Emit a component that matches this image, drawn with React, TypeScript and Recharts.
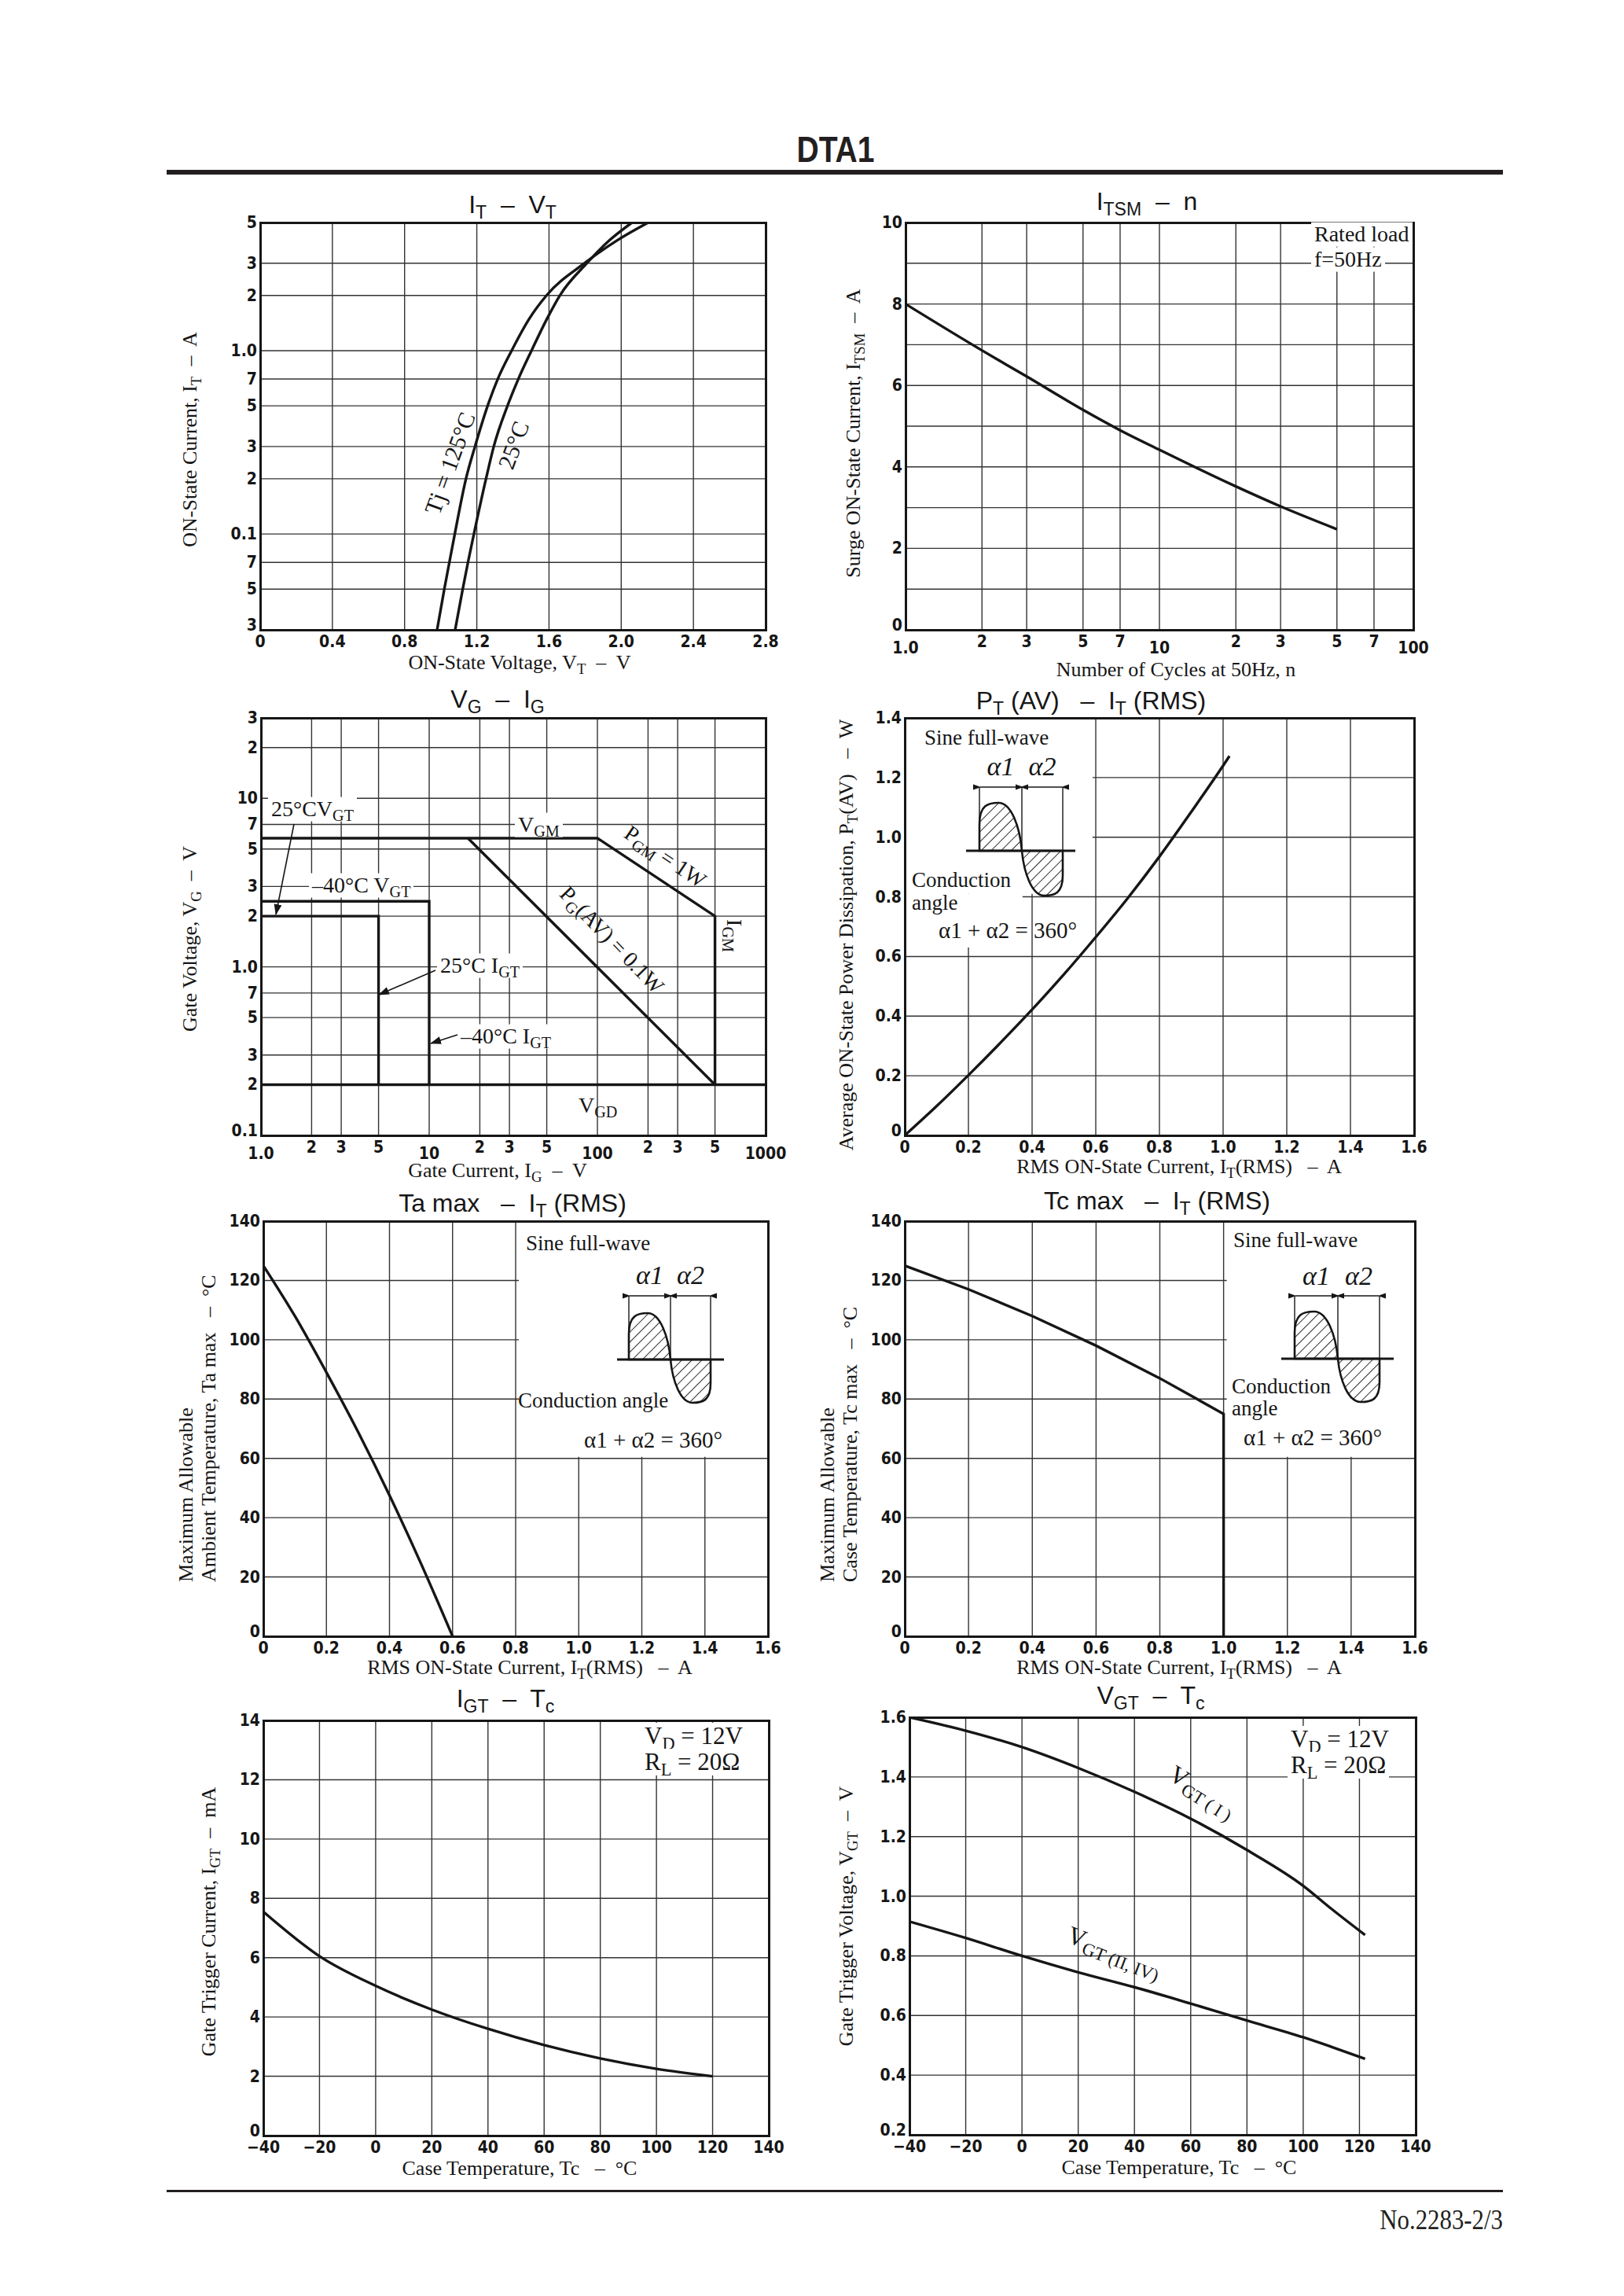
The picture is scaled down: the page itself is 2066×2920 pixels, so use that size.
import React from "react";
import { CartesianGrid, Line, LineChart, ReferenceArea, XAxis, YAxis } from "recharts";

type Pt = { x: number; y: number };
type Axis = { domain: [number, number]; ticks: number[]; labels: string[]; log?: boolean; low?: number[] };
type Blank = { x1: number; x2: number; y1: number; y2: number };
type Series = { data: Pt[]; curve: "monotone" | "linear" };

const SERIF = '"Liberation Serif", "Times New Roman", serif';
const SANS = '"Liberation Sans", Arial, sans-serif';
const TICK_FONT = '"DejaVu Sans Condensed", "DejaVu Sans", sans-serif';
const INK = "#161616";

const zip = (xs: number[], ys: number[]): Pt[] => xs.map((x, i) => ({ x, y: ys[i] }));

// IT - VT
const vtTicks = [0, 0.4, 0.8, 1.2, 1.6, 2.0, 2.4, 2.8];
const vtLabels = ["0", "0.4", "0.8", "1.2", "1.6", "2.0", "2.4", "2.8"];
const itTicks = [0.03, 0.05, 0.07, 0.1, 0.2, 0.3, 0.5, 0.7, 1, 2, 3, 5];
const itLabels = ["3", "5", "7", "0.1", "2", "3", "5", "7", "1.0", "2", "3", "5"];
const it125V = [0.98, 1.02, 1.048, 1.078, 1.14, 1.19, 1.26, 1.316, 1.393, 1.492, 1.586, 1.797, 1.978, 2.15];
const it125A = [0.03, 0.05, 0.07, 0.1, 0.2, 0.3, 0.5, 0.7, 1.0, 1.5, 2, 3, 4, 5];
const it25V = [1.08, 1.122, 1.151, 1.184, 1.251, 1.294, 1.37, 1.43, 1.503, 1.59, 1.66, 1.81, 1.935, 2.06];
const it25A = [0.03, 0.05, 0.07, 0.1, 0.2, 0.3, 0.5, 0.7, 1.0, 1.5, 2, 3, 4, 5];

// ITSM - n
const cycTicks = [1, 2, 3, 5, 7, 10, 20, 30, 50, 70, 100];
const cycLabels = ["1.0", "2", "3", "5", "7", "10", "2", "3", "5", "7", "100"];
const surgeTicks = [0, 1, 2, 3, 4, 5, 6, 7, 8, 9, 10];
const surgeLabels = ["0", "", "2", "", "4", "", "6", "", "8", "", "10"];
const itsmN = [1, 2, 3, 5, 7, 10, 20, 30, 50];
const itsmA = [8.0, 6.86, 6.22, 5.4, 4.9, 4.42, 3.52, 3.03, 2.47];

// VG - IG
const igTicks = [1, 2, 3, 5, 10, 20, 30, 50, 100, 200, 300, 500, 1000];
const igLabels = ["1.0", "2", "3", "5", "10", "2", "3", "5", "100", "2", "3", "5", "1000"];
const vgTicks = [0.1, 0.2, 0.3, 0.5, 0.7, 1, 2, 3, 5, 7, 10, 20, 30];
const vgLabels = ["0.1", "2", "3", "5", "7", "1.0", "2", "3", "5", "7", "10", "2", "3"];
const vgt25I = [1, 5, 5];
const vgt25V = [2, 2, 0.2];
const vgt40I = [1, 10, 10];
const vgt40V = [2.45, 2.45, 0.2];
const vgmI = [1, 100, 500, 500];
const vgmV = [5.8, 5.8, 2, 0.2];
const pgavI = [17, 500];
const pgavV = [5.8, 0.2];
const vgdI = [1, 1000];
const vgdV = [0.2, 0.2];

// PT(AV) - IT(RMS)
const rmsTicks = [0, 0.2, 0.4, 0.6, 0.8, 1.0, 1.2, 1.4, 1.6];
const rmsLabels = ["0", "0.2", "0.4", "0.6", "0.8", "1.0", "1.2", "1.4", "1.6"];
const ptTicks = [0, 0.2, 0.4, 0.6, 0.8, 1.0, 1.2, 1.4];
const ptLabels = ["0", "0.2", "0.4", "0.6", "0.8", "1.0", "1.2", "1.4"];
const ptI = [0, 0.1, 0.2, 0.3, 0.4, 0.5, 0.6, 0.7, 0.8, 0.9, 1.0, 1.02];
const ptW = [0, 0.098, 0.202, 0.31, 0.422, 0.54, 0.665, 0.795, 0.935, 1.085, 1.24, 1.272];

// Ta max / Tc max - IT(RMS)
const tempTicks = [0, 20, 40, 60, 80, 100, 120, 140];
const tempLabels = ["0", "20", "40", "60", "80", "100", "120", "140"];
const taI = [0, 0.1, 0.2, 0.3, 0.4, 0.5, 0.6];
const taC = [125, 108, 89, 69, 47.5, 24.5, 0];
const tcI = [0, 0.2, 0.4, 0.6, 0.8, 1.0, 1.0];
const tcC = [125, 117, 108, 98, 87, 75, 0];

// IGT / VGT - Tc
const caseTicks = [-40, -20, 0, 20, 40, 60, 80, 100, 120, 140];
const caseLabels = ["\u221240", "\u221220", "0", "20", "40", "60", "80", "100", "120", "140"];
const igtTicks = [0, 2, 4, 6, 8, 10, 12, 14];
const igtLabels = ["0", "2", "4", "6", "8", "10", "12", "14"];
const igtT = [-40, -20, 0, 20, 40, 60, 80, 100, 120];
const igtMA = [7.55, 6.05, 5.05, 4.25, 3.6, 3.05, 2.6, 2.25, 2.0];
const vgtTicks = [0.2, 0.4, 0.6, 0.8, 1.0, 1.2, 1.4, 1.6];
const vgtLabels = ["0.2", "0.4", "0.6", "0.8", "1.0", "1.2", "1.4", "1.6"];
const vgtT = [-40, -20, 0, 20, 40, 60, 80, 100, 110, 122];
const vgt1 = [1.6, 1.555, 1.5, 1.43, 1.35, 1.26, 1.155, 1.035, 0.958, 0.87];
const vgt24 = [0.915, 0.86, 0.8, 0.745, 0.695, 0.64, 0.583, 0.527, 0.495, 0.455];

const ML = 92;
const MR = 36;
const MT = 14;
const MB = 60;

const same = (a: number, b: number) => Math.abs(a - b) < 1e-9;

function Panel(props: {
  left: number;
  top: number;
  width: number;
  height: number;
  x: Axis;
  y: Axis;
  series: Series[];
  blanks?: Blank[];
}) {
  const { left, top, width, height, x, y, series, blanks = [] } = props;
  const w = width + ML + MR;
  const h = height + MT + MB;
  const bottom = MT + height;
  const lab = (a: Axis, v: number) => {
    const i = a.ticks.findIndex((t) => same(t, v));
    return i < 0 ? "" : a.labels[i];
  };
  const xTick = (p: any) => {
    const v = p.payload.value;
    const low = (x.low || []).some((t) => same(t, v));
    return (
      <text x={p.x} y={bottom + (low ? 30 : 22)} textAnchor="middle" fontFamily={TICK_FONT} fontWeight="bold" fontSize={21} fill={INK}>
        {lab(x, v)}
      </text>
    );
  };
  const yTick = (p: any) => {
    const v = p.payload.value;
    const first = same(v, y.domain[0]);
    return (
      <text x={ML - 4} y={p.y + (first ? 1 : 7)} textAnchor="end" fontFamily={TICK_FONT} fontWeight="bold" fontSize={21} fill={INK}>
        {lab(y, v)}
      </text>
    );
  };

  return (
    <div style={{ position: "absolute", left: left - ML, top: top - MT, width: w, height: h }}>
      <LineChart width={w} height={h} margin={{ top: MT, right: MR, bottom: 0, left: 0 }}>
        <CartesianGrid stroke="#333" strokeWidth={1.4} />
        <XAxis
          type="number"
          dataKey="x"
          scale={x.log ? "log" : "linear"}
          domain={x.domain}
          ticks={x.ticks}
          interval={0}
          allowDataOverflow
          tickLine={false}
          axisLine={false}
          height={MB}
          tick={xTick}
        />
        <YAxis
          type="number"
          scale={y.log ? "log" : "linear"}
          domain={y.domain}
          ticks={y.ticks}
          interval={0}
          allowDataOverflow
          tickLine={false}
          axisLine={false}
          width={ML}
          tick={yTick}
        />
        {blanks.map((b, i) => (
          <ReferenceArea key={i} x1={b.x1} x2={b.x2} y1={b.y1} y2={b.y2} fill="#fff" fillOpacity={1} stroke="none" />
        ))}
        {series.map((s, i) => (
          <Line
            key={i}
            data={s.data}
            dataKey="y"
            type={s.curve}
            stroke={INK}
            strokeWidth={3.4}
            dot={false}
            activeDot={false}
            isAnimationActive={false}
          />
        ))}
      </LineChart>
      <div
        style={{
          position: "absolute",
          left: ML - 1.5,
          top: MT - 1.5,
          width: width + 3,
          height: height + 3,
          border: `3px solid ${INK}`,
          boxSizing: "border-box",
        }}
      />
    </div>
  );
}

function T(props: any) {
  const { x, y, rot = 0, size = 26, font = SERIF, weight = 400, anchor = "middle", bg = false, italic = false, children } = props;
  const tx = anchor === "middle" ? "-50%" : anchor === "end" ? "-100%" : "0%";
  return (
    <div
      style={{
        position: "absolute",
        left: x,
        top: y,
        transform: `translate(${tx}, -50%) rotate(${rot}deg)`,
        fontFamily: font,
        fontSize: size,
        fontWeight: weight,
        fontStyle: italic ? "italic" : "normal",
        whiteSpace: "pre",
        lineHeight: 1.1,
        color: INK,
        background: bg ? "#fff" : "transparent",
        padding: bg ? "0 4px" : 0,
      }}
    >
      {children}
    </div>
  );
}

const Sub = ({ children }: any) => <span style={{ fontSize: "0.72em", position: "relative", top: "0.32em" }}>{children}</span>;

function Wave(p: { L: number; M: number; R: number; ay: number; top: number; bot: number; arrowY: number; x0: number; x1: number; ty: number }) {
  const { L, M, R, ay, top, bot, arrowY, x0, x1, ty } = p;
  const w1 = M - L;
  const w2 = R - M;
  const h1 = ay - top;
  const h2 = bot - ay;
  const pos = `M${L},${ay} L${L},${ay - 0.55 * h1} C${L},${ay - 0.95 * h1} ${L + 0.2 * w1},${top} ${L + 0.45 * w1},${top} C${L + 0.75 * w1},${top} ${L + 0.95 * w1},${ay - 0.5 * h1} ${M},${ay} Z`;
  const neg = `M${R},${ay} L${R},${ay + 0.55 * h2} C${R},${ay + 0.95 * h2} ${R - 0.2 * w2},${bot} ${R - 0.45 * w2},${bot} C${R - 0.75 * w2},${bot} ${R - 0.95 * w2},${ay + 0.5 * h2} ${M},${ay} Z`;
  return (
    <g>
      <path d={pos} fill="url(#hatch)" stroke={INK} strokeWidth={2.6} />
      <path d={neg} fill="url(#hatch)" stroke={INK} strokeWidth={2.6} />
      <line x1={x0} y1={ay} x2={x1} y2={ay} stroke={INK} strokeWidth={3.2} />
      <line x1={L} y1={arrowY} x2={L} y2={ay} stroke={INK} strokeWidth={1.4} />
      <line x1={M} y1={arrowY} x2={M} y2={ay} stroke={INK} strokeWidth={1.4} />
      <line x1={R} y1={arrowY} x2={R} y2={ay} stroke={INK} strokeWidth={1.4} />
      <line x1={L + 1} y1={arrowY} x2={M - 1} y2={arrowY} stroke={INK} strokeWidth={1.6} markerStart="url(#dim)" markerEnd="url(#dim)" />
      <line x1={M + 1} y1={arrowY} x2={R - 1} y2={arrowY} stroke={INK} strokeWidth={1.6} markerStart="url(#dim)" markerEnd="url(#dim)" />
      <text x={(L + M) / 2} y={ty + 12} textAnchor="middle" fontFamily={SERIF} fontStyle="italic" fontSize={34} fill={INK}>
        α1
      </text>
      <text x={(M + R) / 2} y={ty + 12} textAnchor="middle" fontFamily={SERIF} fontStyle="italic" fontSize={34} fill={INK}>
        α2
      </text>
    </g>
  );
}

export default function App() {
  const rmsAxis: Axis = { domain: [0, 1.6], ticks: rmsTicks, labels: rmsLabels };
  const tempAxis: Axis = { domain: [0, 140], ticks: tempTicks, labels: tempLabels };
  const caseAxis: Axis = { domain: [-40, 140], ticks: caseTicks, labels: caseLabels };
  const rmsTitle = (
    <>
      RMS ON-State Current, I<Sub>T</Sub>(RMS) {"  –  "}A
    </>
  );
  const caseTitle = <>Case Temperature, Tc {"  –  "}°C</>;

  return (
    <div
      style={{
        position: "absolute",
        left: 0,
        top: 0,
        width: 2066,
        height: 2920,
        background: "#fff",
        overflow: "hidden",
        fontFamily: SERIF,
        color: INK,
      }}
    >
      {/* header */}
      <div
        style={{
          position: "absolute",
          left: 1063,
          top: 190,
          transform: "translate(-50%, -50%) scaleX(0.85)",
          fontFamily: SANS,
          fontWeight: 700,
          fontSize: 46,
          lineHeight: 1,
          color: "#231f20",
        }}
      >
        DTA1
      </div>
      <div style={{ position: "absolute", left: 212, top: 216, width: 1700, height: 6, background: "#231f20" }} />
      <div style={{ position: "absolute", left: 212, top: 2785, width: 1700, height: 3, background: "#231f20" }} />
      <div
        style={{
          position: "absolute",
          right: 2066 - 1912,
          top: 2806,
          fontFamily: SERIF,
          fontSize: 35,
          lineHeight: 1,
          transform: "scaleX(0.88)",
          transformOrigin: "right center",
          color: "#231f20",
        }}
      >
        No.2283-2/3
      </div>

      {/* IT - VT */}
      <Panel
        left={331}
        top={283}
        width={643}
        height={518}
        x={{ domain: [0, 2.8], ticks: vtTicks, labels: vtLabels }}
        y={{ domain: [0.03, 5], ticks: itTicks, labels: itLabels, log: true }}
        series={[
          { data: zip(it125V, it125A), curve: "monotone" },
          { data: zip(it25V, it25A), curve: "monotone" },
        ]}
      />
      <T x={652} y={261} font={SANS} size={32}>
        I<Sub>T</Sub>
        {"  –  "}V<Sub>T</Sub>
      </T>
      <T x={661} y={843}>
        ON-State Voltage, V<Sub>T</Sub>
        {"  –  "}V
      </T>
      <T x={242} y={559} rot={-90}>
        ON-State Current, I<Sub>T</Sub>
        {"  –  "}A
      </T>
      <T x={572} y={589} rot={-70} size={30}>
        Tj = 125°C
      </T>
      <T x={653} y={566} rot={-70} size={30}>
        25°C
      </T>

      {/* ITSM - n */}
      <Panel
        left={1152}
        top={283}
        width={646}
        height={518}
        x={{ domain: [1, 100], ticks: cycTicks, labels: cycLabels, log: true, low: [1, 10, 100] }}
        y={{ domain: [0, 10], ticks: surgeTicks, labels: surgeLabels }}
        series={[{ data: zip(itsmN, itsmA), curve: "monotone" }]}
      />
      <T x={1459} y={257} font={SANS} size={32}>
        I<Sub>TSM</Sub>
        {"  –  "}n
      </T>
      <T x={1496} y={852}>
        Number of Cycles at 50Hz, n
      </T>
      <T x={1086} y={551} rot={-90}>
        Surge ON-State Current, I<Sub>TSM</Sub>
        {"  –  "}A
      </T>
      <T x={1668} y={298} anchor="start" size={28} bg>
        Rated load
      </T>
      <T x={1668} y={330} anchor="start" size={28} bg>
        f=50Hz
      </T>

      {/* VG - IG */}
      <Panel
        left={332}
        top={913}
        width={642}
        height={531}
        x={{ domain: [1, 1000], ticks: igTicks, labels: igLabels, log: true, low: [1, 10, 100, 1000] }}
        y={{ domain: [0.1, 30], ticks: vgTicks, labels: vgLabels, log: true }}
        series={[
          { data: zip(vgt25I, vgt25V), curve: "linear" },
          { data: zip(vgt40I, vgt40V), curve: "linear" },
          { data: zip(vgmI, vgmV), curve: "linear" },
          { data: zip(pgavI, pgavV), curve: "linear" },
          { data: zip(vgdI, vgdV), curve: "linear" },
        ]}
      />
      <T x={633} y={890} font={SANS} size={32}>
        V<Sub>G</Sub>
        {"  –  "}I<Sub>G</Sub>
      </T>
      <T x={633} y={1489}>
        Gate Current, I<Sub>G</Sub>
        {"  –  "}V
      </T>
      <T x={242} y={1194} rot={-90}>
        Gate Voltage, V<Sub>G</Sub>
        {"  –  "}V
      </T>
      <T x={341} y={1029} anchor="start" size={28} bg>
        25°CV<Sub>GT</Sub>
      </T>
      <T x={655} y={1049} anchor="start" size={28} bg>
        V<Sub>GM</Sub>
      </T>
      <T x={393} y={1126} anchor="start" size={28} bg>
        –40°C V<Sub>GT</Sub>
      </T>
      <T x={556} y={1228} anchor="start" size={28} bg>
        25°C I<Sub>GT</Sub>
      </T>
      <T x={582} y={1318} anchor="start" size={28} bg>
        –40°C I<Sub>GT</Sub>
      </T>
      <T x={736} y={1406} anchor="start" size={28}>
        V<Sub>GD</Sub>
      </T>
      <T x={934} y={1190} rot={90} size={28}>
        I<Sub>GM</Sub>
      </T>
      <T x={846} y={1090} rot={34} size={28}>
        P<Sub>GM</Sub> = 1W
      </T>
      <T x={778} y={1196} rot={46} size={28}>
        P<Sub>G</Sub>(AV) = 0.1W
      </T>

      {/* PT(AV) - IT(RMS) */}
      <Panel
        left={1151}
        top={913}
        width={648}
        height={531}
        x={rmsAxis}
        y={{ domain: [0, 1.4], ticks: ptTicks, labels: ptLabels }}
        blanks={[
          { x1: 0, x2: 0.59, y1: 0.81, y2: 1.4 },
          { x1: 0, x2: 0.37, y1: 0.63, y2: 0.81 },
        ]}
        series={[{ data: zip(ptI, ptW), curve: "monotone" }]}
      />
      <T x={1388} y={892} font={SANS} size={32}>
        P<Sub>T</Sub> (AV) {"  –  "}I<Sub>T</Sub> (RMS)
      </T>
      <T x={1500} y={1484}>
        {rmsTitle}
      </T>
      <T x={1077} y={1189} rot={-90}>
        Average ON-State Power Dissipation, P<Sub>T</Sub>(AV) {"  –  "}W
      </T>
      <T x={1176} y={939} anchor="start" size={27}>
        Sine full-wave
      </T>
      <T x={1160} y={1120} anchor="start" size={27}>
        Conduction
      </T>
      <T x={1160} y={1149} anchor="start" size={27}>
        angle
      </T>
      <T x={1194} y={1184} anchor="start" size={29}>
        α1 + α2 = 360°
      </T>

      {/* Ta max - IT(RMS) */}
      <Panel
        left={335}
        top={1553}
        width={642}
        height={528}
        x={rmsAxis}
        y={tempAxis}
        blanks={[{ x1: 0.81, x2: 1.6, y1: 60.5, y2: 140 }]}
        series={[{ data: zip(taI, taC), curve: "monotone" }]}
      />
      <T x={652} y={1531} font={SANS} size={32}>
        Ta max {"  –  "}I<Sub>T</Sub> (RMS)
      </T>
      <T x={674} y={2121}>
        {rmsTitle}
      </T>
      <div
        style={{
          position: "absolute",
          left: 222,
          top: 2012,
          transformOrigin: "0 0",
          transform: "rotate(-90deg)",
          fontFamily: SERIF,
          fontSize: 26,
          lineHeight: 1.12,
          whiteSpace: "pre",
        }}
      >
        <div>Maximum Allowable</div>
        <div>Ambient Temperature, Ta max {"  –  "}°C</div>
      </div>
      <T x={669} y={1582} anchor="start" size={27}>
        Sine full-wave
      </T>
      <T x={659} y={1782} anchor="start" size={27}>
        Conduction angle
      </T>
      <T x={743} y={1832} anchor="start" size={29}>
        α1 + α2 = 360°
      </T>

      {/* Tc max - IT(RMS) */}
      <Panel
        left={1151}
        top={1553}
        width={649}
        height={528}
        x={rmsAxis}
        y={tempAxis}
        blanks={[{ x1: 1.01, x2: 1.6, y1: 60.5, y2: 140 }]}
        series={[{ data: zip(tcI, tcC), curve: "linear" }]}
      />
      <T x={1472} y={1528} font={SANS} size={32}>
        Tc max {"  –  "}I<Sub>T</Sub> (RMS)
      </T>
      <T x={1500} y={2121}>
        {rmsTitle}
      </T>
      <div
        style={{
          position: "absolute",
          left: 1038,
          top: 2012,
          transformOrigin: "0 0",
          transform: "rotate(-90deg)",
          fontFamily: SERIF,
          fontSize: 26,
          lineHeight: 1.12,
          whiteSpace: "pre",
        }}
      >
        <div>Maximum Allowable</div>
        <div>Case Temperature, Tc max {"  –  "}°C</div>
      </div>
      <T x={1569} y={1578} anchor="start" size={27}>
        Sine full-wave
      </T>
      <T x={1567} y={1764} anchor="start" size={27}>
        Conduction
      </T>
      <T x={1567} y={1792} anchor="start" size={27}>
        angle
      </T>
      <T x={1582} y={1829} anchor="start" size={29}>
        α1 + α2 = 360°
      </T>

      {/* IGT - Tc */}
      <Panel
        left={335}
        top={2188}
        width={643}
        height={528}
        x={caseAxis}
        y={{ domain: [0, 14], ticks: igtTicks, labels: igtLabels }}
        series={[{ data: zip(igtT, igtMA), curve: "monotone" }]}
      />
      <T x={643} y={2161} font={SANS} size={32}>
        I<Sub>GT</Sub>
        {"  –  "}T<Sub>c</Sub>
      </T>
      <T x={661} y={2758}>
        {caseTitle}
      </T>
      <T x={266} y={2444} rot={-90}>
        Gate Trigger Current, I<Sub>GT</Sub>
        {"  –  "}mA
      </T>
      <T x={816} y={2208} anchor="start" size={31} bg>
        V<Sub>D</Sub> = 12V
      </T>
      <T x={816} y={2241} anchor="start" size={31} bg>
        R<Sub>L</Sub> = 20Ω
      </T>

      {/* VGT - Tc */}
      <Panel
        left={1157}
        top={2184}
        width={644}
        height={531}
        x={caseAxis}
        y={{ domain: [0.2, 1.6], ticks: vgtTicks, labels: vgtLabels }}
        series={[
          { data: zip(vgtT, vgt1), curve: "monotone" },
          { data: zip(vgtT, vgt24), curve: "monotone" },
        ]}
      />
      <T x={1464} y={2157} font={SANS} size={32}>
        V<Sub>GT</Sub>
        {"  –  "}T<Sub>c</Sub>
      </T>
      <T x={1500} y={2757}>
        {caseTitle}
      </T>
      <T x={1077} y={2437} rot={-90}>
        Gate Trigger Voltage, V<Sub>GT</Sub>
        {"  –  "}V
      </T>
      <T x={1638} y={2212} anchor="start" size={31} bg>
        V<Sub>D</Sub> = 12V
      </T>
      <T x={1638} y={2245} anchor="start" size={31} bg>
        R<Sub>L</Sub> = 20Ω
      </T>
      <T x={1530} y={2278} rot={32} size={32}>
        V<Sub>GT ( I )</Sub>
      </T>
      <T x={1418} y={2482} rot={21} size={32}>
        V<Sub>GT (II, IV)</Sub>
      </T>

      {/* overlay drawings: conduction-angle insets and arrows */}
      <svg width={2066} height={2920} style={{ position: "absolute", left: 0, top: 0, pointerEvents: "none" }}>
        <defs>
          <pattern id="hatch" width={9} height={9} patternUnits="userSpaceOnUse" patternTransform="rotate(45)">
            <rect width={9} height={9} fill="#fff" />
            <line x1={0} y1={0} x2={0} y2={9} stroke={INK} strokeWidth={1.8} />
          </pattern>
          <marker id="dim" markerWidth={10} markerHeight={8} refX={1} refY={4} orient="auto-start-reverse" markerUnits="userSpaceOnUse">
            <path d="M0,4 L10,0.5 L10,7.5 Z" fill={INK} />
          </marker>
          <marker id="ah" markerWidth={14} markerHeight={10} refX={13} refY={5} orient="auto" markerUnits="userSpaceOnUse">
            <path d="M0,0 L14,5 L0,10 Z" fill={INK} />
          </marker>
        </defs>
        <Wave L={1246} M={1300} R={1352} ay={1082} top={1021} bot={1139} arrowY={1001} x0={1229} x1={1368} ty={974} />
        <Wave L={800} M={853} R={904} ay={1729} top={1670} bot={1784} arrowY={1648} x0={785} x1={921} ty={1621} />
        <Wave L={1647} M={1702} R={1755} ay={1728} top={1668} bot={1783} arrowY={1648} x0={1630} x1={1773} ty={1622} />
        <line x1={374} y1={1048} x2={351} y2={1163} stroke={INK} strokeWidth={1.6} markerEnd="url(#ah)" />
        <line x1={554} y1={1234} x2={482} y2={1265} stroke={INK} strokeWidth={1.6} markerEnd="url(#ah)" />
        <line x1={582} y1={1316} x2={548} y2={1327} stroke={INK} strokeWidth={1.6} markerEnd="url(#ah)" />
      </svg>
    </div>
  );
}
